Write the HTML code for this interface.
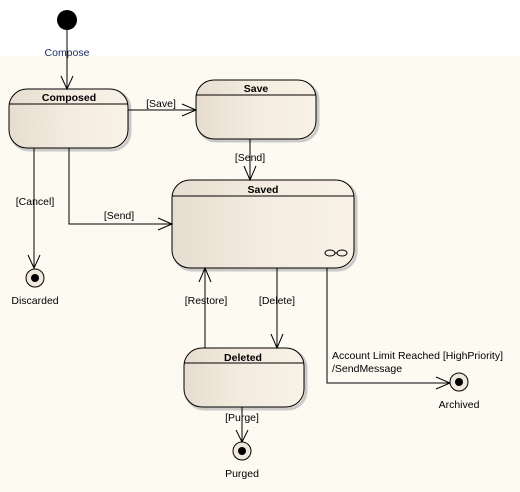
<!DOCTYPE html>
<html><head><style>body{margin:0;background:#fff}svg{display:block}text{font-family:"Liberation Sans",sans-serif;font-size:10.5px}</style></head><body>
<svg width="520" height="492" xmlns="http://www.w3.org/2000/svg">
<defs>
<linearGradient id="g" x1="0" x2="1" y1="0" y2="0"><stop offset="0" stop-color="#e6ddd0"/><stop offset="0.5" stop-color="#f4ece0"/><stop offset="1" stop-color="#f8f1e6"/></linearGradient>
</defs>
<rect x="0" y="56" width="520" height="436" fill="#fdfaf2"/>
<g stroke="#aaa" stroke-width="3" fill="none" opacity="0.6">
<rect x="11" y="91" width="119" height="59" rx="18"/>
<rect x="198" y="82" width="120" height="59" rx="18"/>
<rect x="174" y="182" width="182" height="88" rx="18"/>
<rect x="186" y="350" width="120" height="59" rx="18"/>
</g>
<g stroke="#000" stroke-width="1" fill="url(#g)">
<rect x="9" y="89" width="119" height="59" rx="18"/>
<rect x="196" y="80" width="120" height="59" rx="18"/>
<rect x="172" y="180" width="182" height="88" rx="18"/>
<rect x="184" y="348" width="120" height="59" rx="18"/>
</g>
<g stroke="#000" stroke-width="1">
<line x1="9" y1="104" x2="128" y2="104"/>
<line x1="196" y1="95" x2="316" y2="95"/>
<line x1="172" y1="196" x2="354" y2="196"/>
<line x1="184" y1="363" x2="304" y2="363"/>
</g>
<g font-weight="bold" text-anchor="middle" fill="#000">
<text x="69" y="101">Composed</text>
<text x="256" y="92">Save</text>
<text x="263" y="193">Saved</text>
<text x="243" y="361">Deleted</text>
</g>
<circle cx="67" cy="20" r="10" fill="#000"/>
<g fill="none" stroke="#000" stroke-width="1">
<path d="M67 30V89M61 76L67 89L73 76"/>
<path d="M128 110H196M182 104L196 110L182 116"/>
<path d="M250 139V180M244 166L250 180L256 166"/>
<path d="M34 148V268M28 255L34 268L40 255"/>
<path d="M69 148V224H172M158 218L172 224L158 230"/>
<path d="M205 348V268M199 282L205 268L211 282"/>
<path d="M277 268V348M271 334L277 348L283 334"/>
<path d="M327 268V383H450M436 377L450 383L436 389"/>
<path d="M242 407V442M236 430L242 442L248 430"/>
<ellipse cx="330" cy="253" rx="5" ry="3"/><ellipse cx="342" cy="253" rx="5" ry="3"/><line x1="335" y1="253" x2="337" y2="253"/>
</g>
<g stroke="#000" fill="#f0e8dc">
<circle cx="35" cy="278" r="9"/><circle cx="242" cy="451" r="9"/><circle cx="459" cy="382" r="9"/>
</g>
<g fill="#000"><circle cx="35" cy="278" r="4"/><circle cx="242" cy="451" r="4"/><circle cx="459" cy="382" r="4"/></g>
<g fill="#000" text-anchor="middle">
<text x="67" y="56" fill="#1a2a5a">Compose</text>
<text x="161" y="107">[Save]</text>
<text x="250" y="161">[Send]</text>
<text x="35" y="205">[Cancel]</text>
<text x="119" y="219">[Send]</text>
<text x="206" y="304">[Restore]</text>
<text x="277" y="304">[Delete]</text>
<text x="242" y="421">[Purge]</text>
<text x="35" y="304">Discarded</text>
<text x="242" y="477">Purged</text>
<text x="459" y="408">Archived</text>
</g>
<text x="332" y="359">Account Limit Reached [HighPriority]</text>
<text x="332" y="372">/SendMessage</text>
</svg>
</body></html>
